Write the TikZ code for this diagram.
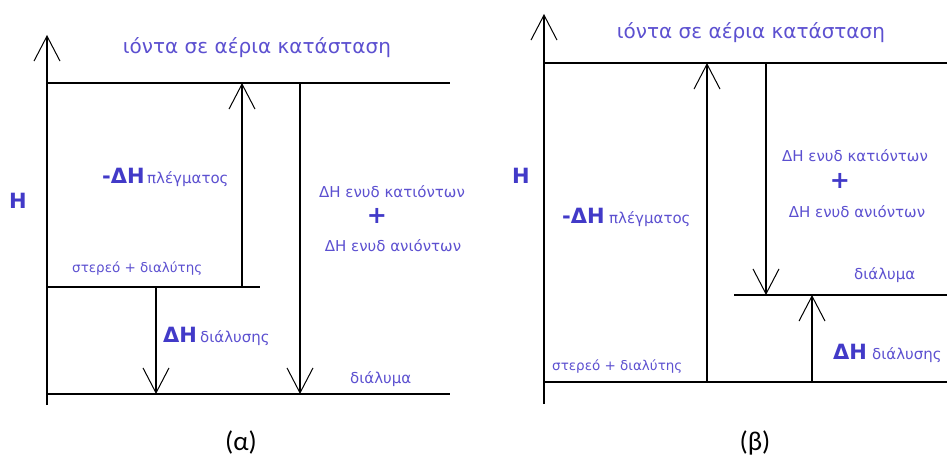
\documentclass[tikz,border=0pt]{standalone}
\usepackage{fontspec}
\setmainfont{DejaVu Sans}
\newfontfamily\calibfont{Carlito}
\usetikzlibrary{arrows.meta}
\definecolor{txt}{RGB}{92,80,208}
\definecolor{txtb}{RGB}{66,58,200}
\tikzset{
  lvl/.style={line width=1.3pt},
  arr/.style={line width=1.2pt,-{Straight Barb[length=25pt,width=26pt,line width=1pt]}},
  ttl/.style={text=txt,font=\fontsize{20}{24}\selectfont,inner sep=0pt},
  lbl/.style={text=txt,font=\fontsize{15}{18}\selectfont,inner sep=0pt},
  sml/.style={text=txt,font=\fontsize{13.5}{16}\selectfont,inner sep=0pt},
  dh/.style={text=txtb,font=\fontsize{21}{25}\selectfont\bfseries,inner sep=0pt},
  pls/.style={text=txtb,font=\fontsize{24}{28}\selectfont\bfseries,inner sep=0pt},
  captxt/.style={text=black,font=\calibfont\fontsize{27}{32}\selectfont,inner sep=0pt}
}
\begin{document}
\begin{tikzpicture}[x=1pt,y=-1pt]
\useasboundingbox (0,0) rectangle (947,460);
% ---------- (alpha) ----------
\coordinate (aAxB) at (47,405);
\coordinate (aAxT) at (47,35);
\coordinate (aTopL) at (47,83);
\coordinate (aTopR) at (450,83);
\coordinate (aStL) at (47,287);
\coordinate (aStR) at (260,287);
\coordinate (aBotL) at (47,394);
\coordinate (aBotR) at (450,394);
\coordinate (aU1) at (242,287);
\coordinate (aU1t) at (242,83);
\coordinate (aD1) at (300,83);
\coordinate (aD1b) at (300,394);
\coordinate (aD2) at (156,287);
\coordinate (aD2b) at (156,394);
\draw[arr] (aAxB) -- (aAxT);
\draw[lvl] (aTopL) -- (aTopR);
\draw[lvl] (aStL) -- (aStR);
\draw[lvl] (aBotL) -- (aBotR);
\draw[arr] (aU1) -- (aU1t);
\draw[arr] (aD1) -- (aD1b);
\draw[arr] (aD2) -- (aD2b);
\node[ttl,anchor=base] (aTitle) at (257,53) {ιόντα σε αέρια κατάσταση};
\node[dh,anchor=base] (aH) at (18,208) {Η};
\node[dh,anchor=base west] (aDHl) at (102,183) {-ΔΗ};
\node[lbl,anchor=base west] (aPl) at (147,183) {πλέγματος};
\node[lbl,anchor=base] (aCat) at (392,197) {ΔΗ ενυδ κατιόντων};
\node[pls] (aPlus) at (377,216) {+};
\node[lbl,anchor=base] (aAn) at (393,251) {ΔΗ ενυδ ανιόντων};
\node[sml,anchor=base west] (aSt) at (72,272) {στερεό + διαλύτης};
\node[dh,anchor=base west] (aDHd) at (163,342) {ΔΗ};
\node[lbl,anchor=base west] (aDi) at (200,342) {διάλυσης};
\node[lbl,anchor=base west] (aDm) at (350,383) {διάλυμα};
\node[captxt] (aCap) at (241,442) {(α)};
% ---------- (beta) ----------
\coordinate (bAxB) at (544,404);
\coordinate (bAxT) at (544,14);
\coordinate (bTopL) at (544,63);
\coordinate (bTopR) at (947,63);
\coordinate (bBotL) at (544,382);
\coordinate (bBotR) at (947,382);
\coordinate (bSolL) at (734,295);
\coordinate (bSolR) at (947,295);
\coordinate (bU1) at (707,382);
\coordinate (bU1t) at (707,63);
\coordinate (bD1) at (766,63);
\coordinate (bD1b) at (766,295);
\coordinate (bU2) at (812,382);
\coordinate (bU2t) at (812,295);
\draw[arr] (bAxB) -- (bAxT);
\draw[lvl] (bTopL) -- (bTopR);
\draw[lvl] (bBotL) -- (bBotR);
\draw[lvl] (bSolL) -- (bSolR);
\draw[arr] (bU1) -- (bU1t);
\draw[arr] (bD1) -- (bD1b);
\draw[arr] (bU2) -- (bU2t);
\node[ttl,anchor=base] (bTitle) at (751,38) {ιόντα σε αέρια κατάσταση};
\node[dh,anchor=base] (bH) at (521,183) {Η};
\node[dh,anchor=base west] (bDHl) at (562,223) {-ΔΗ};
\node[lbl,anchor=base west] (bPl) at (609,223) {πλέγματος};
\node[lbl,anchor=base] (bCat) at (855,161) {ΔΗ ενυδ κατιόντων};
\node[pls] (bPlus) at (840,181) {+};
\node[lbl,anchor=base] (bAn) at (857,217) {ΔΗ ενυδ ανιόντων};
\node[lbl,anchor=base west] (bDm) at (854,279) {διάλυμα};
\node[dh,anchor=base west] (bDHd) at (833,359) {ΔΗ};
\node[lbl,anchor=base west] (bDi) at (872,359) {διάλυσης};
\node[sml,anchor=base west] (bSt) at (552,370) {στερεό + διαλύτης};
\node[captxt] (bCap) at (755,443) {(β)};
\end{tikzpicture}
\end{document}
